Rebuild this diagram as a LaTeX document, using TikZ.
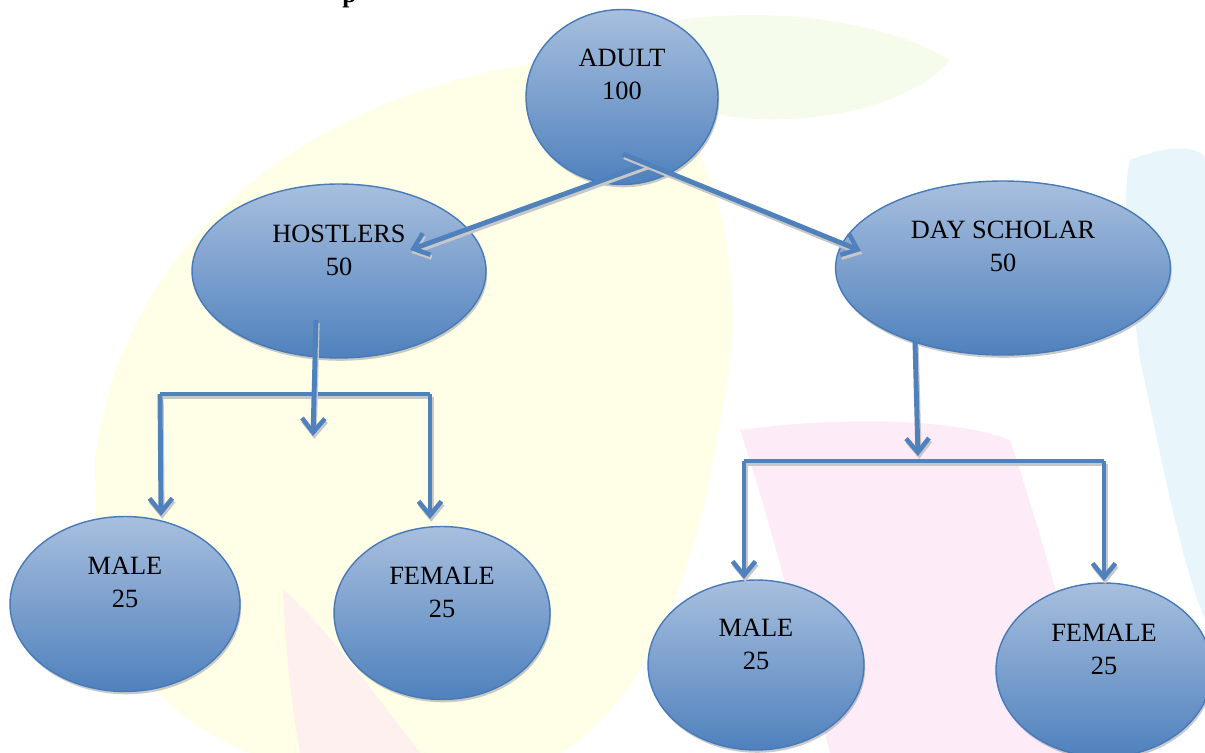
\documentclass[tikz,border=0pt]{standalone}
\usepackage{fontspec}
\setmainfont{Liberation Serif}
\usetikzlibrary{arrows.meta,shapes.geometric,shadows,calc}
\definecolor{nodetop}{RGB}{168,191,222}
\definecolor{nodebot}{RGB}{79,129,189}
\definecolor{nodeedge}{RGB}{70,122,185}
\definecolor{linkblue}{RGB}{79,129,189}
\definecolor{wmyellow}{RGB}{255,253,205}
\definecolor{wmpink}{RGB}{253,215,242}
\definecolor{wmcyan}{RGB}{210,238,250}
\definecolor{wmgreen}{RGB}{238,250,215}
\tikzset{
  oval/.style={ellipse, draw=nodeedge, line width=0.8pt, top color=nodetop, bottom color=nodebot,
    inner sep=0pt, drop shadow={shadow xshift=0.7pt, shadow yshift=-1.6pt, fill=black!35, opacity=0.6}},
  lbl/.style={align=center, inner sep=0pt, font=\fontsize{15}{18.7}\selectfont},
  tip/.style={-{Straight Barb[length=8pt,width=13pt,line width=2.6pt]}},
  lnk/.style={draw=linkblue, line width=2.8pt},
  lnkshadow/.style={draw=black!22, line width=2.8pt, transform canvas={shift={(0.7pt,-1.6pt)}}},
}
\newcommand\mylink[2][]{\draw[lnkshadow,#1] #2; \draw[lnk,#1] #2;}
\begin{document}
\begin{tikzpicture}[x=0.02cm,y=-0.02cm]
\useasboundingbox (0,0) rectangle (1205,753);
% faint watermark background
\begin{scope}[opacity=0.5]
\fill[wmyellow] (95,460) .. controls (120,250) and (300,90) .. (560,60)
   .. controls (700,50) and (760,250) .. (720,420) .. controls (700,560) and (650,700) .. (560,753)
   -- (250,753) .. controls (120,700) and (95,600) .. (95,460) -- cycle;
\fill[wmgreen] (560,60) .. controls (650,0) and (850,0) .. (950,60) .. controls (900,120) and (760,130) .. (700,110) -- cycle;
\fill[wmpink] (740,430) .. controls (850,415) and (960,420) .. (1010,440)
   .. controls (1050,560) and (1080,680) .. (1100,753) -- (830,753) .. controls (800,640) and (770,520) .. (740,430) -- cycle;
\fill[wmpink!70] (283,590) .. controls (320,620) and (380,700) .. (420,753) -- (300,753) .. controls (290,700) and (285,640) .. (283,590) -- cycle;
\fill[wmcyan] (1130,160) .. controls (1180,140) and (1205,150) .. (1205,160) -- (1205,620)
   .. controls (1180,560) and (1160,450) .. (1140,360) .. controls (1130,280) and (1120,200) .. (1130,160) -- cycle;
\end{scope}
% partial heading at top edge
\node[anchor=base west, inner sep=0pt, font=\fontsize{14.5}{17}\selectfont\bfseries] (head) at (342,3) {p};
% nodes
\node[oval, minimum width=3.84cm, minimum height=3.5cm] (adult) at (622,97) {};
\node[oval, minimum width=5.88cm, minimum height=3.48cm] (host) at (339,271) {};
\node[oval, minimum width=6.7cm, minimum height=3.48cm] (day) at (1003,268) {};
\node[oval, minimum width=4.6cm, minimum height=3.5cm] (hm) at (125,604) {};
\node[oval, minimum width=4.32cm, minimum height=3.46cm] (hf) at (442,613) {};
\node[oval, minimum width=4.32cm, minimum height=3.4cm] (dm) at (756,665) {};
\node[oval, minimum width=4.32cm, minimum height=3.48cm] (df) at (1104,670) {};
% labels
\node[lbl] (adult-t) at ([yshift=0.45cm]adult.center) {ADULT\\100};
\node[lbl] (host-t) at ([yshift=0.42cm]host.center) {HOSTLERS\\50};
\node[lbl] (day-t) at ([yshift=0.43cm]day.center) {DAY SCHOLAR\\50};
\node[lbl] (hm-t) at ([yshift=0.43cm]hm.center) {MALE\\25};
\node[lbl] (hf-t) at ([yshift=0.41cm]hf.center) {FEMALE\\25};
\node[lbl] (dm-t) at ([yshift=0.42cm]dm.center) {MALE\\25};
\node[lbl] (df-t) at ([yshift=0.41cm]df.center) {FEMALE\\25};
% connector end points
\coordinate (a1) at (647,164);
\coordinate (a2) at (623,154);
\coordinate (h1) at (410,250);
\coordinate (d1) at (861,251);
\coordinate (hs) at (316,320);
\coordinate (hd) at (313,436);
\coordinate (hbl) at (160,394);
\coordinate (hbr) at (430,394);
\coordinate (hml) at (161,516);
\coordinate (hfr) at (430,519);
\coordinate (ds) at (915,342);
\coordinate (dd) at (918,456);
\coordinate (dbl) at (744,461);
\coordinate (dbr) at (1104,461);
\coordinate (dml) at (744,579);
\coordinate (dfr) at (1104,581);
% connectors
\mylink{(hbl) -- (hbr)}
\mylink{(dbl) -- (dbr)}
\mylink[tip]{(a1) -- (h1)}
\mylink[tip]{(a2) -- (d1)}
\mylink[tip]{(hs) -- (hd)}
\mylink[tip]{(hbl) -- (hml)}
\mylink[tip]{(hbr) -- (hfr)}
\mylink[tip]{(ds) -- (dd)}
\mylink[tip]{(dbl) -- (dml)}
\mylink[tip]{(dbr) -- (dfr)}
\end{tikzpicture}
\end{document}
